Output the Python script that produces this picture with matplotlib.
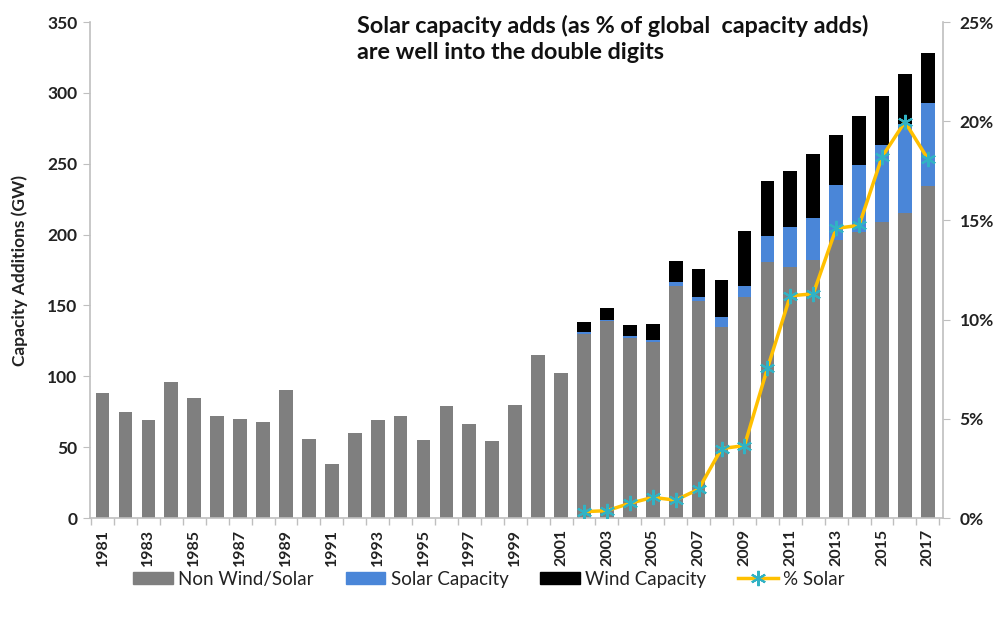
import matplotlib
matplotlib.use("Agg")
import matplotlib.pyplot as plt
from matplotlib.patches import Patch
from matplotlib.lines import Line2D
from matplotlib.ticker import FuncFormatter, MultipleLocator, FixedLocator
import numpy as np

plt.rcParams['font.family'] = ['Lato', 'DejaVu Sans']

years = list(range(1981, 2018))
non_wind_solar = [88, 75, 69, 96, 85, 72, 70, 68, 90, 56, 38, 60, 69, 72, 55, 79, 66, 54, 80, 115, 102,
                  130, 139, 127, 124, 164, 153, 135, 156, 181, 177, 182, 196, 202, 209, 215, 234]
solar_capacity = [0]*21 + [1, 1, 1.2, 1.7, 2.3, 2.8, 6.6, 7.8, 18, 28, 30, 39, 47, 54, 63, 59]
wind_capacity = [0]*21 + [7, 8, 7.7, 11, 15.3, 20, 26.6, 38.5, 39, 40, 45, 35, 35, 35, 35.5, 35]
pct_years = list(range(2002, 2018))
pct_solar = [0.32, 0.37, 0.74, 1.04, 0.9, 1.45, 3.5, 3.65, 7.54, 11.2, 11.3, 14.6, 14.75, 18.2, 19.97, 18.1]
tick_years = list(range(1981, 2018, 2))

title = "Solar capacity adds (as % of global  capacity adds)\nare well into the double digits"

fig = plt.figure(figsize=(10.04, 6.2), dpi=100)
ax = fig.add_axes([0.0896, 0.1645, 0.8494, 0.80])

gray = '#7f7f7f'
blue = '#4a86d8'
tick_col = '#222222'
x = np.array(years)
nw = np.array(non_wind_solar)
so = np.array(solar_capacity)
wi = np.array(wind_capacity)
w = 0.6
ax.bar(x, nw, width=w, color=gray, zorder=2)
ax.bar(x, so, width=w, bottom=nw, color=blue, zorder=2)
ax.bar(x, wi, width=w, bottom=nw + so, color='black', zorder=2)

ax.set_xlim(1980.45, 2017.65)
ax.set_ylim(0, 350)
ax.yaxis.set_major_locator(MultipleLocator(50))
ax.set_xticks(tick_years)
ax.set_xticklabels([str(y) for y in tick_years], rotation=90, fontsize=11.5, fontweight='bold',
                   color=tick_col)
ax.tick_params(axis='x', length=0, pad=8)
ax.xaxis.set_minor_locator(FixedLocator(np.arange(1980.5, 2018, 1)))
ax.tick_params(axis='x', which='minor', length=5, color='#bfbfbf', width=1)
ax.tick_params(axis='y', length=5, color='#bfbfbf', labelsize=12.5, pad=4, labelcolor=tick_col)
for lab in ax.get_yticklabels():
    lab.set_fontweight('bold')
for s in ['top', 'right']:
    ax.spines[s].set_visible(False)
for s in ['left', 'bottom']:
    ax.spines[s].set_color('#bfbfbf')
    ax.spines[s].set_linewidth(1.2)
ax.set_ylabel("Capacity Additions (GW)", fontsize=12.5, fontweight='bold', labelpad=14, color=tick_col)

ax2 = ax.twinx()
ax2.set_ylim(0, 25)
ax2.yaxis.set_major_locator(MultipleLocator(5))
ax2.yaxis.set_major_formatter(FuncFormatter(lambda v, p: f"{v:.0f}%"))
ax2.plot(pct_years, pct_solar, color='#ffc000', lw=2.5, marker=(6, 2, 0), markersize=11,
         markeredgecolor='#31b2c4', markeredgewidth=1.5, zorder=3)
for s in ['top', 'left', 'bottom']:
    ax2.spines[s].set_visible(False)
ax2.spines['right'].set_color('#bfbfbf')
ax2.spines['right'].set_linewidth(1.2)
ax2.tick_params(axis='y', length=5, color='#bfbfbf', labelsize=12.5, pad=7, labelcolor=tick_col)
for lab in ax2.get_yticklabels():
    lab.set_fontweight('bold')

fig.text(0.356, 0.976, title, fontsize=16.8, fontweight='bold', va='top', ha='left', linespacing=1.3,
         color='#111111')

handles = [Patch(color=gray, label='Non Wind/Solar'),
           Patch(color=blue, label='Solar Capacity'),
           Patch(color='black', label='Wind Capacity'),
           Line2D([0], [0], color='#ffc000', lw=2.5, marker=(6, 2, 0), markersize=11,
                  markeredgecolor='#31b2c4', markeredgewidth=1.5, label='% Solar')]
fig.legend(handles=handles, loc='center', bbox_to_anchor=(0.487, 0.066), ncol=4, frameon=False,
           fontsize=13.5, handlelength=2.1, handleheight=0.6, columnspacing=1.7, handletextpad=0.3,
           labelcolor=tick_col)

fig.savefig('out.png', dpi=100)
